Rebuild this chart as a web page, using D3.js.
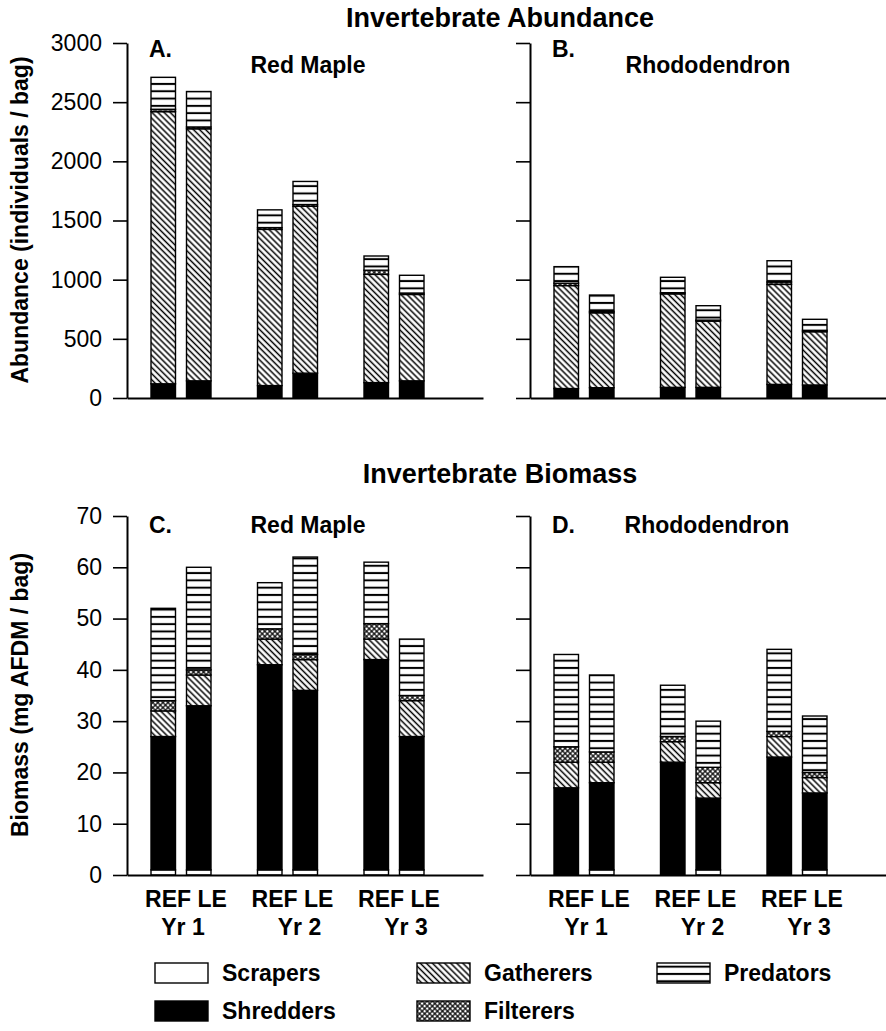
<!DOCTYPE html>
<html>
<head>
<meta charset="utf-8">
<script src="https://cdn.jsdelivr.net/npm/d3@7"></script>
<style>
  body { margin: 0; background: #fff; }
  svg { display: block; font-family: "Liberation Sans", Arial, Helvetica, sans-serif; }
</style>
</head>
<body>
<script>
const width = 886,
    height = 1031;

const years = ["Yr 1", "Yr 2", "Yr 3"];
const sites = ["REF", "LE"];
const guilds = ["scrapers", "shredders", "gatherers", "filterers", "predators"];
const guildLabels = ["Scrapers", "Shredders", "Gatherers", "Filterers", "Predators"];
const abundanceTicks = [0, 500, 1000, 1500, 2000, 2500, 3000];
const biomassTicks = [0, 10, 20, 30, 40, 50, 60, 70];

// bar order: REF Yr1, LE Yr1, REF Yr2, LE Yr2, REF Yr3, LE Yr3
// abundance (individuals / bag)
const abunMapleScrapers  = [0, 0, 0, 0, 0, 0];
const abunMapleShredders = [120, 145, 105, 210, 130, 145];
const abunMapleGatherers = [2300, 2130, 1320, 1410, 915, 730];
const abunMapleFilterers = [20, 15, 15, 15, 35, 12];
const abunMaplePredators = [270, 300, 150, 195, 120, 150];

const abunRhodoScrapers  = [0, 0, 0, 0, 0, 0];
const abunRhodoShredders = [80, 87, 90, 90, 115, 110];
const abunRhodoGatherers = [870, 633, 790, 560, 845, 450];
const abunRhodoFilterers = [20, 12, 10, 8, 20, 12];
const abunRhodoPredators = [140, 138, 130, 122, 180, 93];

// biomass (mg AFDM / bag)
const bioMapleScrapers  = [1, 1, 1, 1, 1, 1];
const bioMapleShredders = [26, 32, 40, 35, 41, 26];
const bioMapleGatherers = [5, 6, 5, 6, 4, 7];
const bioMapleFilterers = [2, 1, 2, 1, 3, 1];
const bioMaplePredators = [18, 20, 9, 19, 12, 11];

const bioRhodoScrapers  = [0, 1, 0, 1, 0, 1];
const bioRhodoShredders = [17, 17, 22, 14, 23, 15];
const bioRhodoGatherers = [5, 4, 4, 3, 4, 3];
const bioRhodoFilterers = [3, 2, 1, 3, 1, 1];
const bioRhodoPredators = [18, 15, 10, 9, 16, 11];

function makeRows(sc, sh, ga, fi, pr) {
  return sc.map(function(d, i) {
    return {
      year: years[Math.floor(i / 2)], site: sites[i % 2],
      scrapers: sc[i], shredders: sh[i], gatherers: ga[i], filterers: fi[i], predators: pr[i]
    };
  });
}

const svg = d3.select("body").append("svg")
    .attr("width", width)
    .attr("height", height);

const defs = svg.append("defs");

// gatherers: back-slash hatching
var gat = defs.append("pattern").attr("id", "gatherers")
    .attr("patternUnits", "userSpaceOnUse").attr("width", 4.3).attr("height", 4.3)
    .attr("patternTransform", "rotate(-45)");
gat.append("rect").attr("width", 4.3).attr("height", 4.3).attr("fill", "#fff");
gat.append("line").attr("x1", 2.15).attr("x2", 2.15).attr("y1", 0).attr("y2", 4.3)
    .attr("stroke", "#000").attr("stroke-width", 1.5);

// predators: horizontal stripes
var pred = defs.append("pattern").attr("id", "predators")
    .attr("patternUnits", "userSpaceOnUse").attr("width", 10).attr("height", 7.3);
pred.append("rect").attr("width", 10).attr("height", 7.3).attr("fill", "#fff");
pred.append("line").attr("x1", 0).attr("x2", 10).attr("y1", 3.65).attr("y2", 3.65)
    .attr("stroke", "#000").attr("stroke-width", 2);

// filterers: diamond mesh
var filt = defs.append("pattern").attr("id", "filterers")
    .attr("patternUnits", "userSpaceOnUse").attr("width", 3.6).attr("height", 3.6)
    .attr("patternTransform", "rotate(45)");
filt.append("rect").attr("width", 3.6).attr("height", 3.6).attr("fill", "#000");
filt.append("rect").attr("x", 0.6).attr("y", 0.6).attr("width", 2.4).attr("height", 2.4).attr("fill", "#fff");

const fills = {
  scrapers: "#fff",
  shredders: "#000",
  gatherers: "url(#gatherers)",
  filterers: "url(#filterers)",
  predators: "url(#predators)"
};

const stack = d3.stack().keys(guilds);

function label(g, txt, x, y, size, weight, anchor) {
  return g.append("text")
      .attr("x", x).attr("y", y)
      .attr("font-size", size)
      .attr("font-weight", weight)
      .attr("text-anchor", anchor)
      .attr("fill", "#000")
      .text(txt);
}

function panel(opts) {
  var g = svg.append("g");
  var x0 = opts.x0;
  var xg = d3.scalePoint().domain(years).range([x0 + 54, x0 + 267]);
  var xs = d3.scaleBand().domain(sites).range([-30, 30]).paddingInner(0.31);
  var y = d3.scaleLinear().domain(opts.domain).range(opts.range);

  var series = stack(opts.rows);
  g.selectAll("g.layer")
      .data(series)
      .enter().append("g")
      .attr("class", "layer")
      .attr("fill", function(s) { return fills[s.key]; })
      .selectAll("rect")
      .data(function(s) { return s.filter(function(d) { return d[1] > d[0]; }); })
      .enter().append("rect")
      .attr("x", function(d) { return xg(d.data.year) + xs(d.data.site); })
      .attr("y", function(d) { return y(d[1]); })
      .attr("width", xs.bandwidth())
      .attr("height", function(d) { return y(d[0]) - y(d[1]); })
      .attr("stroke", "#000")
      .attr("stroke-width", 1.4);

  var yAxis = g.append("g")
      .attr("transform", "translate(" + x0 + ",0)")
      .call(d3.axisLeft(y).tickValues(opts.ticks).tickSize(14).tickSizeOuter(0).tickPadding(11)
          .tickFormat(opts.showTickLabels ? d3.format("d") : function() { return ""; }));
  yAxis.attr("font-family", null).attr("font-size", 23);
  yAxis.select(".domain").attr("stroke-width", 2);
  yAxis.selectAll(".tick line").attr("stroke-width", 1.6);
  yAxis.selectAll(".tick text").attr("fill", "#000");

  var xAxis = g.append("g")
      .attr("transform", "translate(0," + y(0) + ")")
      .call(d3.axisBottom(d3.scaleLinear().range([x0, x0 + 356])).tickValues([]).tickSizeOuter(0));
  xAxis.select(".domain").attr("stroke-width", 2);

  label(g, opts.letter, x0 + 22, opts.letterY, 23, "bold", "start");
  label(g, opts.name, opts.nameX, opts.nameY, 23, "bold", "middle");

  if (opts.showX) {
    var yrShift = [2, 12, 12];
    years.forEach(function(yr, i) {
      label(g, "REF LE", xg(yr) + 5, 907, 23, "bold", "middle");
      label(g, yr, xg(yr) + yrShift[i], 935, 23, "bold", "middle");
    });
  }
}

panel({
  x0: 127, domain: [0, 3000], range: [398, 43], ticks: abundanceTicks, showTickLabels: true,
  rows: makeRows(abunMapleScrapers, abunMapleShredders, abunMapleGatherers, abunMapleFilterers, abunMaplePredators),
  letter: "A.", letterY: 57, name: "Red Maple", nameX: 308, nameY: 73, showX: false
});
panel({
  x0: 530, domain: [0, 3000], range: [398, 43], ticks: abundanceTicks, showTickLabels: false,
  rows: makeRows(abunRhodoScrapers, abunRhodoShredders, abunRhodoGatherers, abunRhodoFilterers, abunRhodoPredators),
  letter: "B.", letterY: 57, name: "Rhododendron", nameX: 708, nameY: 73, showX: false
});
panel({
  x0: 127, domain: [0, 70], range: [875, 516], ticks: biomassTicks, showTickLabels: true,
  rows: makeRows(bioMapleScrapers, bioMapleShredders, bioMapleGatherers, bioMapleFilterers, bioMaplePredators),
  letter: "C.", letterY: 533, name: "Red Maple", nameX: 308, nameY: 533, showX: true
});
panel({
  x0: 530, domain: [0, 70], range: [875, 516], ticks: biomassTicks, showTickLabels: false,
  rows: makeRows(bioRhodoScrapers, bioRhodoShredders, bioRhodoGatherers, bioRhodoFilterers, bioRhodoPredators),
  letter: "D.", letterY: 533, name: "Rhododendron", nameX: 707, nameY: 533, showX: true
});

// titles
label(svg, "Invertebrate Abundance", 500, 27, 27, "bold", "middle");
label(svg, "Invertebrate Biomass", 500, 483, 27, "bold", "middle");

// y axis titles
svg.append("text")
    .attr("transform", "translate(28,220) rotate(-90)")
    .attr("text-anchor", "middle").attr("font-size", 23).attr("font-weight", "bold")
    .text("Abundance (individuals / bag)");
svg.append("text")
    .attr("transform", "translate(28,695) rotate(-90)")
    .attr("text-anchor", "middle").attr("font-size", 23).attr("font-weight", "bold")
    .text("Biomass (mg AFDM / bag)");

// legend
var legendPos = {
  scrapers: [155, 963], gatherers: [417, 963], predators: [657, 963],
  shredders: [155, 1001], filterers: [417, 1001]
};
var legend = svg.append("g").selectAll("g")
    .data(guilds)
    .enter().append("g")
    .attr("transform", function(d) { return "translate(" + legendPos[d][0] + "," + legendPos[d][1] + ")"; });
legend.append("rect")
    .attr("width", 53).attr("height", 20)
    .attr("fill", function(d) { return fills[d]; })
    .attr("stroke", "#000").attr("stroke-width", 1.4);
legend.append("text")
    .attr("x", 67).attr("y", 18)
    .attr("font-size", 23).attr("font-weight", "bold")
    .text(function(d, i) { return guildLabels[i]; });
</script>
</body>
</html>
